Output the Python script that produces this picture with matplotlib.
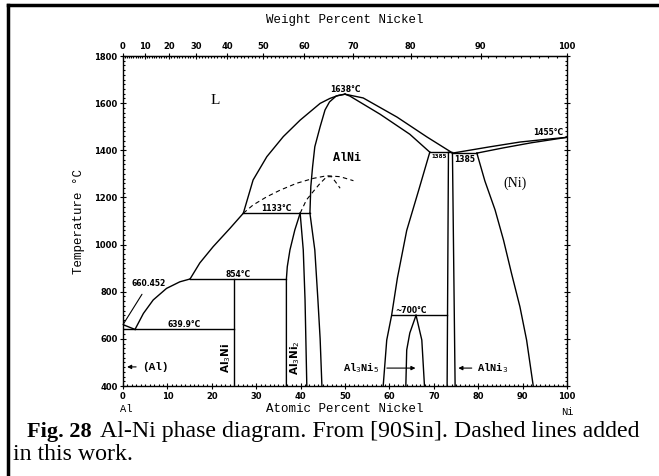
import numpy as np
import matplotlib.pyplot as plt
from matplotlib.lines import Line2D
from matplotlib.ticker import MultipleLocator, FixedLocator

# molar masses for the weight-percent scale on top
M_AL = 26.98
M_NI = 58.69

def at_to_wt(a):
    a = np.asarray(a, dtype=float)
    with np.errstate(divide='ignore', invalid='ignore'):
        return 100 * a * M_NI / (a * M_NI + (100 - a) * M_AL)

def wt_to_at(w):
    w = np.asarray(w, dtype=float)
    with np.errstate(divide='ignore', invalid='ignore'):
        return 100 * (w / M_NI) / (w / M_NI + (100 - w) / M_AL)

# phase boundaries (at.% Ni, deg C)
al_liq_x = [0, 2.7]
al_liq_t = [660.452, 639.9]

liq_al3ni_x = [2.7, 4.6, 6.8, 9.8, 12.8, 15.1]
liq_al3ni_t = [639.9, 708, 765, 814, 842, 854]

liq_al3ni2_x = [15.1, 17.3, 20.3, 24.1, 27.1]
liq_al3ni2_t = [854, 922, 991, 1069, 1133]

liq_alni_left_x = [27.1, 29.3, 32.4, 36.1, 39.9, 44.4, 46.6, 48.5, 50.0]
liq_alni_left_t = [1133, 1274, 1373, 1458, 1528, 1599, 1620, 1633, 1638]

liq_alni_right_x = [50.0, 54.1, 61.7, 68.5, 74.1]
liq_alni_right_t = [1638, 1622, 1541, 1456, 1390]

sol_alni_right_x = [50.0, 51.1, 57.9, 64.6, 69.1]
sol_alni_right_t = [1638, 1630, 1553, 1468, 1392]

sol_alni_left_x = [50.0, 48.0, 46.5, 45.5, 44.4, 43.2, 42.7, 42.3, 42.1]
sol_alni_left_t = [1638, 1630, 1605, 1571, 1500, 1415, 1330, 1246, 1133]

solv_alni_left_x = [42.1, 43.2, 43.9, 44.4, 44.8]
solv_alni_left_t = [1133, 977, 765, 600, 400]

solv_alni_right_x = [69.1, 66.6, 63.9, 61.8, 60.5, 59.4, 58.6]
solv_alni_right_t = [1392, 1231, 1060, 858, 700, 595, 400]

al3ni2_left_x = [36.8, 36.8, 37.0, 37.6, 38.7, 39.9]
al3ni2_left_t = [400, 854, 906, 977, 1062, 1133]
al3ni2_right_x = [39.9, 40.6, 41.0, 41.4]
al3ni2_right_t = [1133, 977, 765, 400]

al3ni5_left_x = [66.0, 64.6, 63.9, 63.7]
al3ni5_left_t = [700, 625, 553, 400]
al3ni5_right_x = [66.0, 67.3, 67.9]
al3ni5_right_t = [700, 595, 400]

alni3_left_x = [73.0, 73.3]
alni3_left_t = [400, 1392]
alni3_right_x = [74.8, 74.2]
alni3_right_t = [400, 1388]

liq_ni_x = [74.2, 78.0, 82.4, 89.4, 95.0, 100]
liq_ni_t = [1388, 1400, 1414, 1435, 1446, 1455]
sol_ni_x = [79.7, 85.6, 92.0, 100]
sol_ni_t = [1388, 1410, 1432, 1455]
solv_ni_x = [79.7, 81.5, 83.8, 85.7, 87.5, 89.4, 90.9, 92.4]
solv_ni_t = [1388, 1270, 1147, 1019, 878, 736, 595, 400]

# invariant lines: (x_start, x_end, T)
invariants = [(0, 25.0, 639.9), (15.1, 36.8, 854), (27.1, 42.1, 1133),
              (60.5, 73.0, 700), (69.1, 74.1, 1392), (74.2, 79.7, 1388)]
al3ni_x = [25.0, 25.0]
al3ni_t = [400, 854]

# dashed lines added in this work
dash1_x = [27.1, 29.3, 32.4, 35.4, 39.1, 42.9, 45.9, 48.9, 51.9]
dash1_t = [1133, 1168, 1203, 1231, 1260, 1281, 1292, 1288, 1271]
dash2_x = [39.9, 41.3, 42.8, 44.4, 45.9, 47.0, 48.1, 48.9]
dash2_t = [1133, 1189, 1224, 1260, 1288, 1288, 1260, 1239]

caption_bold = 'Fig. 28'
caption_line1 = 'Al-Ni phase diagram. From [90Sin]. Dashed lines added'
caption_line2 = 'in this work.'

fig = plt.figure(figsize=(6.59, 4.76), dpi=100)
ax = fig.add_axes([123/659, 1 - 386/476, 444/659, 330/476])

solid = [(al_liq_x, al_liq_t), (liq_al3ni_x, liq_al3ni_t), (liq_al3ni2_x, liq_al3ni2_t),
         (liq_alni_left_x, liq_alni_left_t), (liq_alni_right_x, liq_alni_right_t),
         (sol_alni_right_x, sol_alni_right_t), (sol_alni_left_x, sol_alni_left_t),
         (solv_alni_left_x, solv_alni_left_t), (solv_alni_right_x, solv_alni_right_t),
         (al3ni2_left_x, al3ni2_left_t), (al3ni2_right_x, al3ni2_right_t),
         (al3ni5_left_x, al3ni5_left_t), (al3ni5_right_x, al3ni5_right_t),
         (alni3_left_x, alni3_left_t), (alni3_right_x, alni3_right_t),
         (liq_ni_x, liq_ni_t), (sol_ni_x, sol_ni_t), (solv_ni_x, solv_ni_t),
         (al3ni_x, al3ni_t)]
for xs, ts in solid:
    ax.plot(xs, ts, color='black', lw=1.0)
for x0, x1, t in invariants:
    ax.plot([x0, x1], [t, t], color='black', lw=1.0)
ax.plot(dash1_x, dash1_t, color='black', lw=0.8, ls=(0, (4, 3)))
ax.plot(dash2_x, dash2_t, color='black', lw=0.8, ls=(0, (4, 3)))

ax.set_xlim(0, 100)
ax.set_ylim(400, 1800)
ax.xaxis.set_major_locator(MultipleLocator(10))
ax.xaxis.set_minor_locator(MultipleLocator(1))
ax.yaxis.set_major_locator(MultipleLocator(200))
ax.yaxis.set_minor_locator(MultipleLocator(20))
ax.tick_params(which='both', right=True, labelsize=6, width=0.8)
ax.tick_params(axis='x', which='major', direction='inout', length=5, pad=1.5)
ax.tick_params(axis='y', which='major', direction='inout', length=5, pad=1.5)
ax.tick_params(which='minor', direction='in', length=1.5)
for lab in ax.get_xticklabels() + ax.get_yticklabels():
    lab.set_fontweight('bold')
for s in ax.spines.values():
    s.set_linewidth(1.0)

sec = ax.secondary_xaxis('top', functions=(at_to_wt, wt_to_at))
sec.xaxis.set_major_locator(FixedLocator(list(range(0, 101, 10))))
sec.xaxis.set_minor_locator(FixedLocator(list(range(0, 101, 1))))
sec.tick_params(which='major', direction='inout', length=5, labelsize=6, width=0.8, pad=1)
sec.tick_params(which='minor', direction='in', length=1.5, width=0.8)
for lab in sec.get_xticklabels():
    lab.set_fontweight('bold')
sec.set_xlabel('Weight Percent Nickel', family='Liberation Mono', fontsize=9, labelpad=14)

ax.set_xlabel('Atomic Percent Nickel', family='Liberation Mono', fontsize=9, labelpad=2)
ax.set_ylabel('Temperature °C', family='Liberation Mono', fontsize=9)
ax.yaxis.set_label_coords(-0.085, 0.5)
ax.text(0.007, -0.055, 'Al', transform=ax.transAxes, family='Liberation Mono',
        fontsize=7.5, ha='center', va='top')
ax.text(1.0, -0.065, 'Ni', transform=ax.transAxes, family='Liberation Mono',
        fontsize=7.5, ha='center', va='top')

# phase labels
ax.text(20.7, 1613, 'L', family='Liberation Serif', fontsize=11, ha='center', va='center')
ax.text(50.5, 1367, 'AlNi', family='Liberation Mono', fontweight='bold', fontsize=8.5,
        ha='center', va='center')
ax.text(88.3, 1261, '(Ni)', family='Liberation Serif', fontsize=10, ha='center', va='center')
ax.annotate('(Al)', xy=(0.3, 481), xytext=(4.2, 481), family='Liberation Mono',
            fontweight='bold', fontsize=8, ha='left', va='center',
            arrowprops=dict(arrowstyle='-|>', color='black', lw=0.8, mutation_scale=6))
ax.text(23.2, 520, 'Al$_3$Ni', rotation=90, fontweight='bold', fontsize=7.5,
        ha='center', va='center')
ax.text(38.8, 520, 'Al$_3$Ni$_2$', rotation=90, fontweight='bold', fontsize=7.5,
        ha='center', va='center')
ax.text(57.6, 476, 'Al$_3$Ni$_5$', family='Liberation Mono', fontweight='bold', fontsize=7.5,
        ha='right', va='center')
ax.annotate('', xy=(66.5, 476), xytext=(58.8, 476),
            arrowprops=dict(arrowstyle='-|>', color='black', lw=0.8, mutation_scale=6))
ax.annotate('AlNi$_3$', xy=(74.9, 476), xytext=(79.8, 476), family='Liberation Mono',
            fontweight='bold', fontsize=7.5, ha='left', va='center',
            arrowprops=dict(arrowstyle='-|>', color='black', lw=0.8, mutation_scale=6))

# temperature labels
tkw = dict(fontsize=5.5, fontweight='bold', ha='center', va='bottom')
ax.text(50.0, 1640, '1638°C', **tkw)
ax.text(34.5, 1133, '1133°C', **tkw)
ax.text(25.9, 854, '854°C', **tkw)
ax.text(13.7, 640, '639.9°C', **tkw)
ax.text(64.8, 700, '~700°C', **tkw)
ax.text(95.8, 1457, '1455°C', **tkw)
ax.text(71.3, 1372, '1385', fontsize=4, fontweight='bold', ha='center', va='center')
ax.text(77.0, 1362, '1385', fontsize=5.5, fontweight='bold', ha='center', va='center')
ax.annotate('660.452', xy=(0, 660.452), xytext=(5.8, 835), fontsize=5.5,
            fontweight='bold', ha='center', va='center',
            arrowprops=dict(arrowstyle='-', color='black', lw=0.8, shrinkA=3, shrinkB=0))

# frame lines of the figure box
fig.add_artist(Line2D([8/659, 1], [1 - 5/476, 1 - 5/476], color='black', lw=2.5))
fig.add_artist(Line2D([8/659, 8/659], [0, 1 - 5/476], color='black', lw=2.5))

# caption
fig.text(27/659, 1 - 437/476, caption_bold, family='Liberation Serif', fontweight='bold',
         fontsize=16, ha='left', va='baseline')
fig.text(100/659, 1 - 437/476, caption_line1, family='Liberation Serif',
         fontsize=17.2, ha='left', va='baseline')
fig.text(13/659, 1 - 460/476, caption_line2, family='Liberation Serif',
         fontsize=17.2, ha='left', va='baseline')

fig.savefig('out.png', dpi=100)
